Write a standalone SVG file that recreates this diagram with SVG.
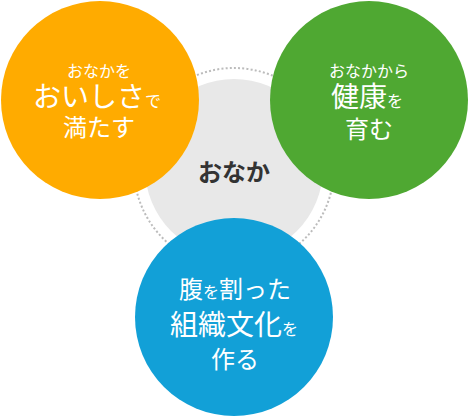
<svg xmlns="http://www.w3.org/2000/svg" width="469" height="417" viewBox="0 0 469 417">
<style>
text{font-family:"Noto Sans CJK JP","Noto Sans",sans-serif;fill:#fff;text-anchor:middle}
.s{font-size:16px}
.m{font-size:24px}
.l{font-size:28px}
.c{fill:#333;font-weight:bold;font-size:24px}
</style>
<rect width="469" height="417" fill="#fff"/>
<g id="center">
<circle cx="234" cy="168" r="100" fill="none" stroke="#bcbcbc" stroke-width="2" stroke-dasharray="2 2.2"/>
<circle cx="234" cy="168" r="89" fill="#e8e8e8"/>
<text class="c" x="234" y="181">おなか</text>
</g>
<g id="orange">
<circle cx="100" cy="100" r="99" fill="#ffab00"/>
<text class="s" x="99" y="77">おなかを</text>
<text x="97" y="107"><tspan class="l">おいしさ</tspan><tspan class="s">で</tspan></text>
<text class="m" x="99" y="136">満たす</text>
</g>
<g id="green">
<circle cx="369" cy="100" r="99" fill="#4fa832"/>
<text class="s" x="369" y="77">おなかから</text>
<text x="367" y="107"><tspan class="l">健康</tspan><tspan class="s">を</tspan></text>
<text class="m" x="369" y="138">育む</text>
</g>
<g id="blue">
<circle cx="234" cy="317" r="99" fill="#12a0d7"/>
<text x="235" y="298"><tspan class="m">腹</tspan><tspan class="s">を</tspan><tspan class="m">割った</tspan></text>
<text x="234" y="335"><tspan class="l">組織文化</tspan><tspan class="s">を</tspan></text>
<text class="m" x="235" y="368">作る</text>
</g>
</svg>
